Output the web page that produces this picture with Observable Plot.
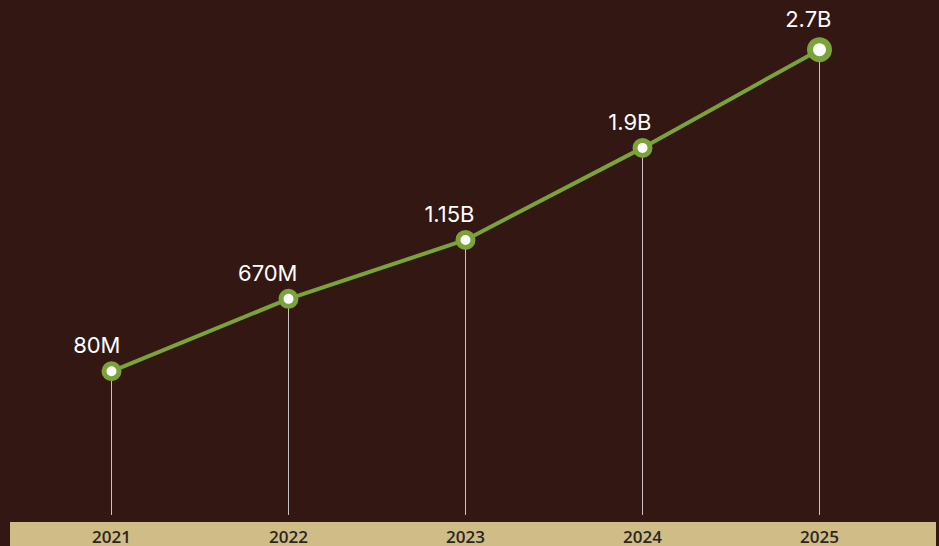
<!DOCTYPE html>
<html>
<head>
<meta charset="utf-8">
<script src="https://cdn.jsdelivr.net/npm/d3@7"></script>
<script src="https://cdn.jsdelivr.net/npm/@observablehq/plot@0.6"></script>
<style>
  html, body { margin: 0; padding: 0; background: #331712; }
  #wrap { position: relative; width: 939px; height: 546px; background: #331712; overflow: hidden; }
  #band { position: absolute; left: 10px; top: 522px; width: 926px; height: 24px; background: #d0bc86; }
  #chart { position: absolute; left: 0; top: 0; }
</style>
</head>
<body>
<div id="wrap"><div id="band"></div><div id="chart"></div></div>
<script>
const years = ["2021", "2022", "2023", "2024", "2025"];
const values = [80, 670, 1150, 1900, 2700]; // millions
const labels = ["80M", "670M", "1.15B", "1.9B", "2.7B"];

const data = years.map((year, i) => ({year, value: values[i], label: labels[i], last: i === years.length - 1}));
const regular = data.filter(d => !d.last);
const final = data.filter(d => d.last);

const yDomain = [-1095, 2897];
const green = "#7aa33a";
const chart = Plot.plot({
  width: 939,
  height: 546,
  marginLeft: 110,
  marginRight: 119,
  marginTop: 25,
  marginBottom: 31,
  style: {background: "transparent", overflow: "visible"},
  x: {type: "point", domain: years, padding: 0, label: null},
  y: {domain: yDomain, axis: null},
  marks: [
    Plot.ruleX(data, {x: "year", y1: "value", y2: yDomain[0], stroke: "#c8c2c0", strokeWidth: 1}),
    Plot.line(data, {x: "year", y: "value", stroke: green, strokeWidth: 4}),
    Plot.dot(regular, {x: "year", y: "value", r: 7.5, fill: "#ffffff", stroke: green, strokeWidth: 5}),
    Plot.dot(final, {x: "year", y: "value", r: 9.5, fill: "#ffffff", stroke: green, strokeWidth: 6}),
    Plot.text(regular, {x: "year", y: "value", text: "label", textAnchor: "end", lineAnchor: "bottom", dx: 9, dy: -18, fill: "#ffffff", fontSize: 22, fontFamily: "Inter"}),
    Plot.text(final, {x: "year", y: "value", text: "label", textAnchor: "end", lineAnchor: "bottom", dx: 12, dy: -23, fill: "#ffffff", fontSize: 22, fontFamily: "Inter"}),
    Plot.axisX({tickSize: 0, tickPadding: 15, fontSize: 17, fontWeight: 600, fontFamily: "Open Sans", fill: "#2a2623", label: null})
  ]
});
document.getElementById("chart").appendChild(chart);
</script>
</body>
</html>
